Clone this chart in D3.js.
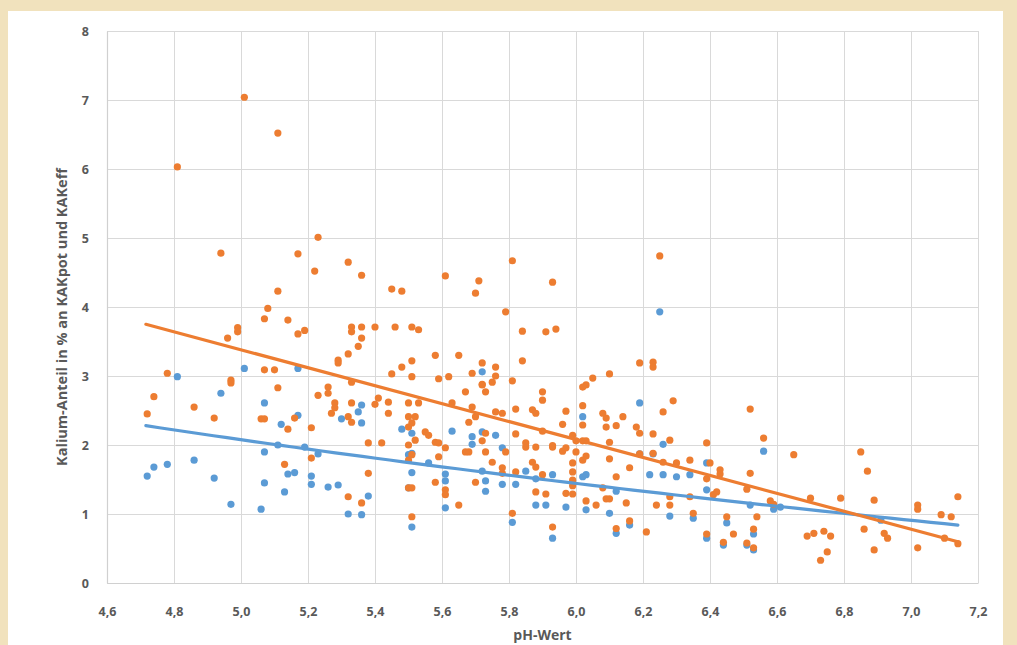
<!DOCTYPE html>
<html><head><meta charset="utf-8">
<script src="https://cdn.jsdelivr.net/npm/d3@7"></script>
<style>body{margin:0;background:#f1e2bd;overflow:hidden} svg{display:block}</style>
</head><body><svg id="c" width="1017" height="645"></svg>
<script>
// ---- data ----
const xTicks = [4.6,4.8,5.0,5.2,5.4,5.6,5.8,6.0,6.2,6.4,6.6,6.8,7.0,7.2];
const yTicks = [0,1,2,3,4,5,6,7,8];
const xTitle = "pH-Wert";
const yTitle = "Kalium-Anteil in % an KAKpot und KAKeff";

const orangePoints = [
[5.01,7.04],[5.11,6.52],[4.81,6.03],[5.23,5.01],[4.94,4.78],[5.17,4.77],[5.22,4.52],[5.11,4.23],[5.08,3.98],[5.07,3.83],[5.14,3.81],[4.99,3.70],[4.99,3.64],[4.96,3.55],[5.17,3.61],[5.19,3.66],[4.78,3.04],[5.07,3.09],[5.10,3.09],[4.97,2.94],[4.97,2.90],[5.11,2.83],[5.23,2.72],[4.74,2.70],[4.86,2.55],[4.72,2.45],[4.92,2.39],[5.06,2.38],[5.07,2.38],[5.16,2.39],[5.14,2.23],[5.21,2.25],[5.21,1.81],[5.13,1.72],
[5.32,4.65],[5.36,4.46],[5.61,4.45],[5.81,4.67],[5.71,4.38],[5.70,4.20],[5.93,4.36],[5.45,4.26],[5.48,4.23],[5.79,3.93],[5.33,3.71],[5.36,3.71],[5.33,3.64],[5.40,3.71],[5.46,3.71],[5.51,3.71],[5.53,3.67],[5.84,3.65],[5.91,3.64],[5.94,3.68],[5.36,3.55],[5.35,3.43],[5.32,3.32],[5.29,3.23],[5.29,3.19],[5.58,3.30],[5.65,3.30],[5.84,3.22],[5.51,3.22],[5.48,3.13],[5.45,3.03],[5.51,2.99],[5.59,2.96],[5.62,2.99],[5.69,3.04],[5.72,3.19],[5.76,3.13],[5.76,3.00],[5.75,2.91],[5.72,2.88],[5.81,2.93],[5.26,2.84],[5.33,2.91],
[5.26,2.75],[5.28,2.61],[5.28,2.54],[5.27,2.46],[5.33,2.61],[5.32,2.41],[5.33,2.33],[5.40,2.59],[5.41,2.68],[5.44,2.62],[5.44,2.46],[5.50,2.61],[5.53,2.61],[5.50,2.41],[5.52,2.41],[5.51,2.32],[5.50,2.26],[5.67,2.77],[5.73,2.77],[5.72,2.87],[5.63,2.61],[5.69,2.55],[5.70,2.41],[5.68,2.33],[5.76,2.48],[5.78,2.46],[5.82,2.52],[5.87,2.51],[5.88,2.46],[5.90,2.77],[5.90,2.65],[5.55,2.19],[5.56,2.14],[5.58,2.04],[5.59,2.03],[5.61,1.96],[5.52,2.07],[5.50,2.00],[5.50,1.78],[5.51,1.86],[5.38,2.03],[5.42,2.03],[5.59,1.83],[5.67,1.90],[5.68,1.90],[5.72,2.06],[5.73,2.17],[5.73,1.90],[5.75,1.75],[5.79,1.90],[5.82,2.16],[5.85,1.97],[5.85,2.03],[5.88,1.97],[5.93,1.97],[5.87,1.75],[5.88,1.68],[5.78,1.67],[5.78,1.59],[5.82,1.61],[5.90,1.57],[5.38,1.59],[5.58,1.46],[5.70,1.46],[5.50,1.38],[5.51,1.38],[5.61,1.35],[5.61,1.28],[5.88,1.32],[5.91,1.29],[5.32,1.25],[5.36,1.16],[5.65,1.13],[5.51,0.96],[5.81,1.01],[5.93,0.81],
[6.25,4.74],[6.19,3.19],[6.23,3.20],[6.23,3.13],[6.10,3.03],[6.05,2.97],[6.03,2.87],[6.02,2.84],
[6.29,2.64],[6.26,2.48],[6.52,2.52],[5.97,2.49],[6.02,2.57],[6.08,2.46],[6.09,2.39],[6.09,2.26],[6.12,2.28],[6.14,2.41],[5.96,2.30],[6.02,2.29],[6.18,2.26],[6.19,2.17],[6.23,2.16],[6.28,2.07],[6.56,2.10],[5.90,2.20],[5.99,2.14],[6.00,2.06],[6.02,2.06],[6.03,2.06],[5.93,1.99],[5.96,1.91],[5.97,1.96],[6.00,1.90],[6.03,1.84],[6.02,1.78],[6.10,2.04],[6.10,1.80],[6.19,1.87],[6.23,1.88],[6.26,1.75],[6.30,1.74],[6.34,1.78],[6.39,2.03],[6.40,1.74],[6.43,1.64],[6.43,1.58],[6.39,1.51],[6.52,1.59],[5.99,1.74],[5.99,1.61],[6.16,1.67],[6.12,1.54],[5.99,1.49],[5.99,1.41],[5.97,1.30],[5.99,1.29],[6.08,1.38],[6.09,1.22],[6.10,1.22],[6.15,1.16],[6.24,1.13],[6.28,1.25],[6.28,1.13],[6.34,1.25],[6.41,1.28],[6.42,1.32],[6.03,1.19],[6.06,1.13],[6.35,1.01],[6.45,0.96],[6.54,0.96],[6.51,1.36],[6.58,1.19],[6.16,0.90],[6.12,0.79],[6.21,0.74],[6.39,0.71],[6.47,0.71],[6.44,0.59],[6.53,0.78],[6.51,0.58],[6.53,0.51],
[6.65,1.86],[6.85,1.90],[6.87,1.62],[6.70,1.23],[6.79,1.23],[6.89,1.20],[7.02,1.13],[7.02,1.07],[7.14,1.25],[7.09,0.99],[7.12,0.96],[6.59,1.14],[6.86,0.78],[6.69,0.68],[6.71,0.72],[6.74,0.75],[6.76,0.68],[6.92,0.72],[6.93,0.65],[7.10,0.65],[7.14,0.57],[7.02,0.51],[6.89,0.48],[6.75,0.45],[6.73,0.33]
];

const bluePoints = [
[4.81,2.99],[5.01,3.11],[5.17,3.11],[4.94,2.75],[5.07,2.61],[5.12,2.30],[5.17,2.43],[5.11,2.00],[5.19,1.97],[5.07,1.90],[5.23,1.87],[4.72,1.55],[4.74,1.68],[4.78,1.72],[4.86,1.78],[4.92,1.52],[5.07,1.45],[5.14,1.58],[5.16,1.60],[5.21,1.55],[5.21,1.43],[5.13,1.32],[4.97,1.14],[5.06,1.07],
[5.72,3.06],
[5.36,2.58],[5.35,2.48],[5.30,2.38],[5.36,2.32],[5.48,2.23],[5.51,2.17],[5.63,2.20],[5.69,2.12],[5.69,2.01],[5.72,2.19],[5.76,2.14],[5.78,1.96],[5.50,1.86],[5.51,1.88],[5.56,1.74],[5.51,1.60],[5.61,1.58],[5.61,1.48],[5.72,1.62],[5.73,1.48],[5.73,1.33],[5.78,1.43],[5.82,1.43],[5.85,1.62],[5.88,1.51],[5.93,1.57],[5.26,1.39],[5.29,1.42],[5.38,1.26],[5.50,1.38],[5.32,1.00],[5.36,0.99],[5.61,1.09],[5.88,1.13],[5.91,1.13],[5.81,0.88],[5.51,0.81],[5.93,0.65],
[6.25,3.93],
[6.19,2.61],[6.02,2.41],[6.26,2.01],[6.56,1.91],[6.19,1.87],[6.23,1.87],[6.39,1.74],[6.02,1.54],[6.03,1.57],[6.22,1.57],[6.26,1.57],[6.30,1.54],[6.34,1.57],[6.39,1.35],[6.12,1.33],[5.97,1.10],[6.03,1.06],[6.10,1.01],[6.28,0.97],[6.35,0.94],[6.45,0.87],[6.53,0.71],[6.52,1.13],[6.12,0.72],[6.16,0.84],[6.39,0.65],[6.44,0.55],[6.53,0.48],[6.51,0.55],
[6.59,1.07],[6.61,1.10],[6.91,0.91]
];

// trendlines: orange linear, blue logarithmic
const orangeTrend = {slope:-1.30, intercept:9.88};
const blueTrend = {a:7.665, b:-3.472};
const trendRange = [4.716, 7.14];

// ---- drawing ----
const svg = d3.select("#c");
const colOrange = "#ED7D31", colBlue = "#5B9BD5";
const grid = "#d9d9d9", txt = "#595959";

svg.append("rect").attr("x",8).attr("y",11).attr("width",995).attr("height",640).attr("fill","#ffffff");

const x = d3.scaleLinear().domain([4.6,7.2]).range([107,978]);
const y = d3.scaleLinear().domain([0,8]).range([583,31]);
const fmt = d => d3.format(".1f")(d).replace(".", ",");

const g = svg.append("g");
g.selectAll("line.vg").data(xTicks).join("line")
  .attr("x1",d=>x(d)).attr("x2",d=>x(d)).attr("y1",y(8)).attr("y2",y(0))
  .attr("stroke",grid).attr("stroke-width",1).attr("shape-rendering","crispEdges");
g.selectAll("line.hg").data(yTicks).join("line")
  .attr("x1",x(4.6)).attr("x2",x(7.2)).attr("y1",d=>y(d)).attr("y2",d=>y(d))
  .attr("stroke",grid).attr("stroke-width",1).attr("shape-rendering","crispEdges");

// axes via d3-axis (no tick marks)
const xAxis = svg.append("g").attr("transform",`translate(0,${y(0)})`)
  .call(d3.axisBottom(x).tickValues(xTicks).tickFormat(fmt).tickSize(0).tickPadding(24));
const yAxis = svg.append("g").attr("transform",`translate(${x(4.6)},0)`)
  .call(d3.axisLeft(y).tickValues(yTicks).tickFormat(d3.format("d")).tickSize(0).tickPadding(18));
[xAxis,yAxis].forEach(a=>{
  a.select(".domain").attr("stroke","#d0d0d0").attr("stroke-width",1.2);
  a.selectAll("text").attr("fill",txt).attr("font-family","'Open Sans', sans-serif")
   .attr("font-size","12.5px").attr("font-weight","700");
});

// points
svg.append("g").selectAll("circle").data(bluePoints).join("circle")
  .attr("cx",d=>x(d[0])).attr("cy",d=>y(d[1])).attr("r",3.6).attr("fill",colBlue);
svg.append("g").selectAll("circle").data(orangePoints).join("circle")
  .attr("cx",d=>x(d[0])).attr("cy",d=>y(d[1])).attr("r",3.6).attr("fill",colOrange);

// trendlines
const xs = d3.range(trendRange[0], trendRange[1]+1e-9, (trendRange[1]-trendRange[0])/60);
const line = d3.line().x(d=>x(d[0])).y(d=>y(d[1]));
svg.append("path").datum(xs.map(v=>[v, blueTrend.a + blueTrend.b*Math.log(v)]))
  .attr("d",line).attr("fill","none").attr("stroke",colBlue).attr("stroke-width",3.2).attr("stroke-linecap","round");
svg.append("path").datum([trendRange[0],trendRange[1]].map(v=>[v, orangeTrend.intercept + orangeTrend.slope*v]))
  .attr("d",line).attr("fill","none").attr("stroke",colOrange).attr("stroke-width",3.2).attr("stroke-linecap","round");

// titles
svg.append("text").attr("x",(x(4.6)+x(7.2))/2).attr("y",640).attr("text-anchor","middle")
  .attr("fill",txt).attr("font-family","'Open Sans', sans-serif").attr("font-size","14px").attr("font-weight","700")
  .text(xTitle);
svg.append("text").attr("transform",`translate(67,${(y(8)+y(0))/2+10}) rotate(-90)`).attr("text-anchor","middle")
  .attr("fill",txt).attr("font-family","'Open Sans', sans-serif").attr("font-size","14.5px").attr("font-weight","700")
  .text(yTitle);
</script></body></html>
